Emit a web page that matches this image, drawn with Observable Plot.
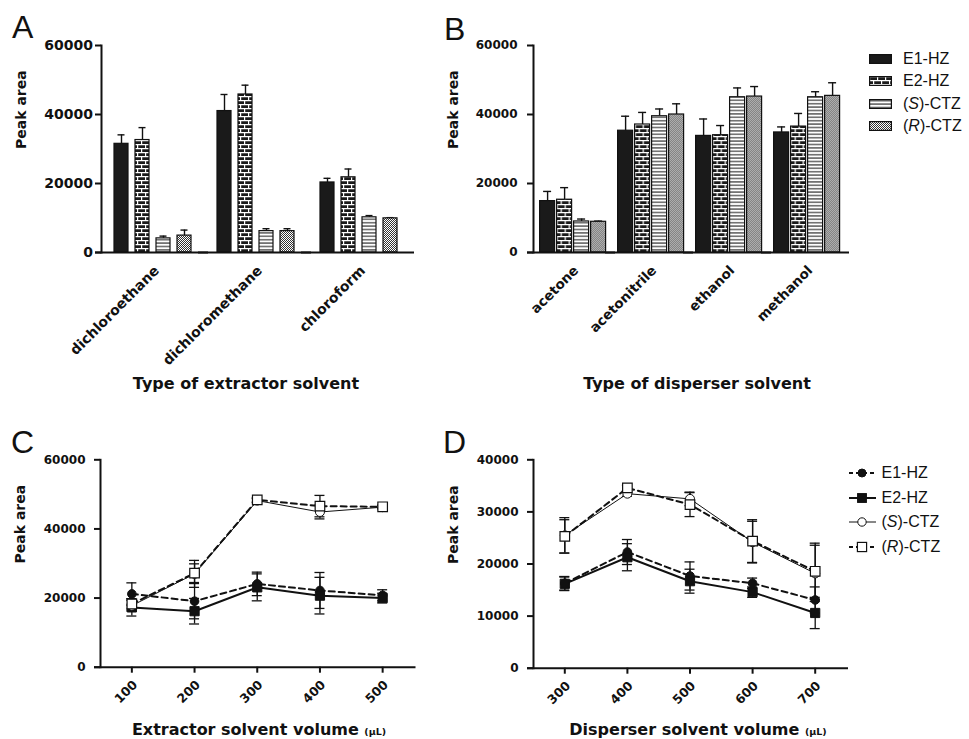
<!DOCTYPE html>
<html><head><meta charset="utf-8">
<script src="https://cdn.jsdelivr.net/npm/d3@7"></script>
<script src="https://cdn.jsdelivr.net/npm/@observablehq/plot@0.6"></script>
<style>
body{margin:0;background:#fff;}
#fig{position:relative;width:969px;height:739px;overflow:hidden;background:#fff;font-family:"Liberation Sans",Arial,sans-serif;color:#111;}
.panel{position:absolute;}
.letter{position:absolute;font-size:32px;line-height:32px;}
.xtitle{position:absolute;font-family:"DejaVu Sans";font-weight:bold;font-size:16px;line-height:16px;white-space:nowrap;transform:translateX(-50%);}
.xtitle small{font-size:9.5px;}
.legend{position:absolute;font-size:16px;}
.legend .row{display:flex;align-items:center;}
.legend svg{display:block;}
</style></head>
<body>
<svg width="0" height="0" style="position:absolute">
<defs>
<pattern id="brick" width="8" height="8" patternUnits="userSpaceOnUse">
<rect width="8" height="8" fill="#1a1a1a"/>
<path d="M0 0.6H8M0 4.6H8M0.6 0.6V4.6M4.6 4.6V8.6" stroke="#fff" stroke-width="1.2" fill="none"/>
</pattern>
<pattern id="hstripe" width="4" height="3.4" patternUnits="userSpaceOnUse">
<rect width="4" height="3.4" fill="#fff"/>
<path d="M0 1.7H4" stroke="#111" stroke-width="1"/>
</pattern>
<pattern id="checker" width="2" height="2" patternUnits="userSpaceOnUse">
<rect width="2" height="2" fill="#fff"/>
<rect width="1" height="1" fill="#333"/>
<rect x="1" y="1" width="1" height="1" fill="#333"/>
</pattern>
</defs>
</svg>
<div id="fig">
  <div class="letter" style="left:12px;top:11px">A</div>
  <div class="letter" style="left:444px;top:12.5px">B</div>
  <div class="letter" style="left:11px;top:426px">C</div>
  <div class="letter" style="left:443px;top:426px">D</div>
  <div id="pA" class="panel" style="left:0;top:0"></div>
  <div id="pB" class="panel" style="left:425px;top:0"></div>
  <div id="pC" class="panel" style="left:0;top:410px"></div>
  <div id="pD" class="panel" style="left:425px;top:410px"></div>
  <div class="xtitle" style="left:246px;top:376px">Type of extractor solvent</div>
  <div class="xtitle" style="left:697px;top:376px">Type of disperser solvent</div>
  <div class="xtitle" style="left:259px;top:721.5px">Extractor solvent volume <small>(μL)</small></div>
  <div class="xtitle" style="left:698px;top:721.5px">Disperser solvent volume <small>(μL)</small></div>
  <div id="legB" class="legend" style="left:869px;top:48px"></div>
  <div id="legD" class="legend" style="left:849px;top:461px"></div>
</div>
<script>
// ---------- data ----------
const series = ["E1-HZ", "E2-HZ", "(S)-CTZ", "(R)-CTZ"];
const seriesHtml = ["E1-HZ", "E2-HZ", "(<i>S</i>)-CTZ", "(<i>R</i>)-CTZ"];

// Panel A: type of extractor solvent
const extractorTypes = ["dichloroethane", "dichloromethane", "chloroform"];
const extE1 = [31500, 41000, 20300], extE1Err = [2600, 4800, 1200];
const extE2 = [32600, 45800, 21800], extE2Err = [3600, 2700, 2400];
const extS = [4100, 6200, 10200], extSErr = [650, 700, 500];
const extR = [4900, 6200, 9900], extRErr = [1600, 700, 200];

// Panel B: type of disperser solvent
const disperserTypes = ["acetone", "acetonitrile", "ethanol", "methanol"];
const disE1 = [14900, 35300, 33800, 34800], disE1Err = [2800, 4200, 4900, 1600];
const disE2 = [15300, 37100, 34000, 36500], disE2Err = [3500, 3500, 2800, 3800];
const disS = [9000, 39500, 45000, 45000], disSErr = [700, 2100, 2700, 1600];
const disR = [8900, 40000, 45200, 45400], disRErr = [200, 3100, 2900, 3800];

// Panel C: extractor solvent volume (µL)
const extVolumes = [100, 200, 300, 400, 500];
const evE1 = [21200, 19100, 24100, 22200, 20800], evE1Err = [3200, 5100, 3400, 5200, 1600];
const evE2 = [17300, 16200, 23100, 20700, 20000], evE2Err = [2500, 3700, 3900, 5300, 1400];
const evS = [17800, 27000, 48200, 44900, 46300], evSErr = [1500, 3900, 600, 2000, 500];
const evR = [18300, 27200, 48400, 46600, 46400], evRErr = [1500, 2700, 600, 3100, 500];

// Panel D: disperser solvent volume (µL)
const disVolumes = [300, 400, 500, 600, 700];
const dvE1 = [16300, 22300, 17700, 16300, 13100], dvE1Err = [1300, 2400, 2700, 1000, 2500];
const dvE2 = [16200, 21300, 16700, 14600, 10600], dvE2Err = [1300, 2600, 2300, 1000, 3000];
const dvS = [25500, 33500, 32500, 24200, 18200], dvSErr = [3400, 500, 1300, 4000, 5400];
const dvR = [25300, 34600, 31400, 24400, 18600], dvRErr = [3200, 500, 2300, 4100, 5400];

const yTicksAC = [0, 20000, 40000, 60000];
const yTicksD = [0, 10000, 20000, 30000, 40000];

// ---------- styles ----------
const ink = "#111";
const patternFills = ["#1a1a1a", "url(#brick)", "url(#hstripe)", "url(#checker)"];
const lineStyles = [
  {w: 2, dash: "6,4", symbol: "circle", r: 4.3, fill: ink, sw: 1},
  {w: 2, dash: null, symbol: "square", r: 5.2, fill: ink, sw: 1},
  {w: 1, dash: null, symbol: "circle", r: 4.5, fill: "#fff", sw: 1},
  {w: 2, dash: "6,4", symbol: "square", r: 5.4, fill: "#fff", sw: 1.2}
];

function records(keys, means, errs, keyName) {
  const out = [];
  series.forEach((s, i) => {
    keys.forEach((k, j) => out.push({[keyName]: k, series: s, value: means[i][j], err: errs[i][j]}));
  });
  return out;
}

const baseStyle = {fontFamily: "DejaVu Sans", fontWeight: "bold", fontSize: "13px", color: ink, background: "transparent", overflow: "visible"};
const fmt = d3.format("d");

function barPanel({cats, rows, width, marginLeft, marginRight, pIn, pOut, labelGap, yFont, catFont}) {
  return Plot.plot({
    width, height: 400, marginLeft, marginRight, marginTop: 45, marginBottom: 148,
    style: baseStyle,
    fx: {domain: cats, padding: 0, label: null, axis: null},
    x: {domain: series, paddingInner: pIn, paddingOuter: pOut, axis: null},
    y: {domain: [0, 60000], axis: null},
    color: {domain: series, range: patternFills},
    marks: [
      Plot.ruleX(rows, {fx: "cat", x: "series", y1: "value", y2: d => d.value + d.err, stroke: ink, strokeWidth: 1.4}),
      Plot.tickY(rows, {fx: "cat", x: "series", y: d => d.value + d.err, inset: 3.5, stroke: ink, strokeWidth: 1.4}),
      Plot.barY(rows, {fx: "cat", x: "series", y: "value", fill: "series", stroke: ink, strokeWidth: 1.2}),
      Plot.ruleY([0], {insetLeft: -6, insetRight: -4, stroke: ink, strokeWidth: 2}),
      Plot.frame({anchor: "left", facetAnchor: "left", stroke: ink, strokeWidth: 2}),
      Plot.axisY({ticks: yTicksAC, tickSize: 6, strokeWidth: 2, fill: "none", label: null}),
      Plot.text(yTicksAC, {y: d => d, text: fmt, frameAnchor: "left", textAnchor: "end", dx: -6 - labelGap, fontSize: yFont, facetAnchor: "left"}),
      Plot.tickX(cats, {fx: d => d, frameAnchor: "bottom", y1: 0, y2: 0, insetTop: 0}),
      Plot.text(cats, {fx: d => d, frameAnchor: "bottom", rotate: -45, textAnchor: "end", lineAnchor: "top", dy: 12, fontSize: catFont}),
      Plot.text(["Peak area"], {frameAnchor: "left", rotate: -90, dx: -80, fontSize: 14, facetAnchor: "left"})
    ]
  });
}

function linePanel({xs, rows, width, marginLeft, marginRight, xDomain, yDomain, yTicks, marginBottom}) {
  const marks = [];
  series.forEach((s, i) => {
    const st = lineStyles[i];
    marks.push(Plot.line(rows.filter(d => d.series === s), {x: "vol", y: "value", stroke: ink, strokeWidth: st.w, strokeDasharray: st.dash}));
  });
  marks.push(
    Plot.ruleX(rows, {x: "vol", y1: d => d.value - d.err, y2: d => d.value + d.err, stroke: ink, strokeWidth: 1.3}),
    Plot.ruleY(rows, {y: d => d.value + d.err, x1: "vol", x2: "vol", insetLeft: -5, insetRight: -5, stroke: ink, strokeWidth: 1.3}),
    Plot.ruleY(rows, {y: d => d.value - d.err, x1: "vol", x2: "vol", insetLeft: -5, insetRight: -5, stroke: ink, strokeWidth: 1.3})
  );
  series.forEach((s, i) => {
    const st = lineStyles[i];
    marks.push(Plot.dot(rows.filter(d => d.series === s), {x: "vol", y: "value", symbol: st.symbol, r: st.r, fill: st.fill, stroke: ink, strokeWidth: st.sw}));
  });
  marks.push(
    Plot.ruleY([0], {insetLeft: -6, insetRight: -2, stroke: ink, strokeWidth: 2}),
    Plot.frame({anchor: "left", stroke: ink, strokeWidth: 2}),
    Plot.axisY({ticks: yTicks, tickSize: 6, strokeWidth: 2, fill: "none", label: null}),
    Plot.axisX({ticks: xs, tickSize: 6, strokeWidth: 2, fill: "none", label: null}),
    Plot.text(yTicks, {y: d => d, text: fmt, frameAnchor: "left", textAnchor: "end", dx: -15, fontSize: 12}),
    Plot.text(xs, {x: d => d, text: fmt, frameAnchor: "bottom", rotate: -45, textAnchor: "end", lineAnchor: "top", dy: 12, fontSize: 12.5}),
    Plot.text(["Peak area"], {frameAnchor: "left", rotate: -90, dx: -80, fontSize: 14})
  );
  return Plot.plot({
    width, height: 329, marginLeft, marginRight, marginTop: 49.3, marginBottom,
    style: baseStyle,
    x: {domain: xDomain, axis: null},
    y: {domain: yDomain, axis: null},
    marks
  });
}

const rowsA = records(extractorTypes, [extE1, extE2, extS, extR], [extE1Err, extE2Err, extSErr, extRErr], "cat");
const rowsB = records(disperserTypes, [disE1, disE2, disS, disR], [disE1Err, disE2Err, disSErr, disRErr], "cat");
const rowsC = records(extVolumes, [evE1, evE2, evS, evR], [evE1Err, evE2Err, evSErr, evRErr], "vol");
const rowsD = records(disVolumes, [dvE1, dvE2, dvS, dvR], [dvE1Err, dvE2Err, dvSErr, dvRErr], "vol");

document.getElementById("pA").append(barPanel({cats: extractorTypes, rows: rowsA, width: 425, marginLeft: 100, marginRight: 14.5, pIn: 0.318, pOut: 0.511, labelGap: 2.5, yFont: 14, catFont: 14}));
document.getElementById("pB").append(barPanel({cats: disperserTypes, rows: rowsB, width: 430, marginLeft: 108.4, marginRight: 9.6, pIn: 0.145, pOut: 0.34, labelGap: 10, yFont: 12, catFont: 13.5}));
document.getElementById("pC").append(linePanel({xs: extVolumes, rows: rowsC, width: 425, marginLeft: 100, marginRight: 11.5, xDomain: [50, 550], yDomain: [0, 60000], yTicks: yTicksAC, marginBottom: 72.3}));
document.getElementById("pD").append(linePanel({xs: disVolumes, rows: rowsD, width: 430, marginLeft: 108, marginRight: 9, xDomain: [250, 750], yDomain: [0, 40000], yTicks: yTicksD, marginBottom: 71.3}));

// ---------- legends ----------
const legB = document.getElementById("legB");
series.forEach((s, i) => {
  const row = document.createElement("div");
  row.className = "row";
  row.style.height = "22.3px";
  row.innerHTML = `<svg width="23" height="10" style="margin-right:11px"><rect x="0.6" y="0.6" width="21.8" height="8.8" fill="${patternFills[i]}" stroke="${ink}" stroke-width="1.2"/></svg><span>${seriesHtml[i]}</span>`;
  legB.append(row);
});
const legD = document.getElementById("legD");
series.forEach((s, i) => {
  const st = lineStyles[i];
  const row = document.createElement("div");
  row.className = "row";
  row.style.height = "24.5px";
  const sym = st.symbol === "circle"
    ? `<circle cx="13" cy="7" r="${st.r - 0.3}" fill="${st.fill}" stroke="${ink}" stroke-width="${st.sw}"/>`
    : `<rect x="${13 - st.r * 0.85}" y="${7 - st.r * 0.85}" width="${st.r * 1.7}" height="${st.r * 1.7}" fill="${st.fill}" stroke="${ink}" stroke-width="${st.sw}"/>`;
  row.innerHTML = `<svg width="27" height="14" style="margin-right:5.5px"><line x1="0" y1="7" x2="27" y2="7" stroke="${ink}" stroke-width="${st.w}" ${st.dash ? `stroke-dasharray="4,3"` : ""}/>${sym}</svg><span>${seriesHtml[i]}</span>`;
  legD.append(row);
});
</script>
</body></html>
